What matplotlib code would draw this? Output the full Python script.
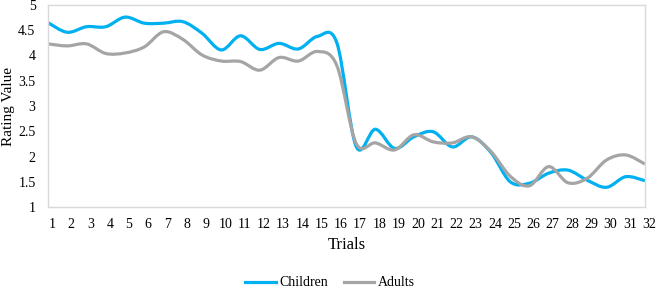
import numpy as np
import matplotlib
matplotlib.use('Agg')
import matplotlib.pyplot as plt
from matplotlib.path import Path
from matplotlib.patches import PathPatch
from matplotlib.lines import Line2D
from matplotlib.transforms import ScaledTranslation

# %% data
trials = list(range(1, 33))
children = [4.65, 4.46, 4.57, 4.57, 4.76, 4.64, 4.64, 4.67, 4.44, 4.11,
            4.39, 4.12, 4.24, 4.13, 4.38, 4.25, 2.20, 2.54, 2.16, 2.39,
            2.49, 2.19, 2.39, 2.08, 1.50, 1.47, 1.67, 1.73, 1.53, 1.39,
            1.60, 1.52]
adults = [4.23, 4.19, 4.23, 4.04, 4.05, 4.17, 4.47, 4.32, 4.01, 3.89,
          3.88, 3.71, 3.96, 3.89, 4.08, 3.80, 2.26, 2.27, 2.13, 2.43,
          2.29, 2.27, 2.39, 2.10, 1.61, 1.42, 1.80, 1.48, 1.57, 1.93,
          2.03, 1.85]

BLUE = '#00B0F0'
GREY = '#A5A5A5'
LW = 2.3


# %% definitions
def smooth_path(x, y):
    """Excel-style smoothed line: Bezier segments through every point."""
    p = np.column_stack([x, y]).astype(float)
    n = len(p)
    verts = [p[0]]
    codes = [Path.MOVETO]
    for i in range(n - 1):
        p0 = p[i - 1] if i > 0 else p[i]
        p3 = p[i + 2] if i + 2 < n else p[i + 1]
        c1 = p[i] + (p[i + 1] - p0) / 6
        c2 = p[i + 1] - (p3 - p[i]) / 6
        verts += [c1, c2, p[i + 1]]
        codes += [Path.CURVE4] * 3
    return Path(verts, codes)


plt.rcParams['font.family'] = ['Liberation Serif', 'DejaVu Serif']

# %% plot
fig = plt.figure(figsize=(6.6, 2.9), dpi=100)
ax = fig.add_axes([48 / 660, 1 - 207 / 290, 597 / 660, 202 / 290])

for values, color in [(children, BLUE), (adults, GREY)]:
    ax.add_patch(PathPatch(smooth_path(trials, values), fill=False,
                           edgecolor=color, lw=LW, capstyle='butt',
                           joinstyle='round'))

ax.set_xlim(1, 32)
ax.set_ylim(1, 5)
ax.set_xticks(trials)
ax.set_xticklabels([str(t) for t in trials], fontsize=10)
ax.set_yticks(np.arange(1, 5.01, 0.5))
ax.set_yticklabels(['1', '1.5', '2', '2.5', '3', '3.5', '4', '4.5', '5'],
                   fontsize=10)
ax.tick_params(length=0)
ax.tick_params(axis='x', pad=8)
ax.tick_params(axis='y', pad=9)
offset = ScaledTranslation(4 / 100, 0, fig.dpi_scale_trans)
for lab in ax.get_xticklabels():
    lab.set_transform(lab.get_transform() + offset)

for side in ax.spines.values():
    side.set_color('#D9D9D9')
    side.set_linewidth(1)

ax.set_xlabel('Trials', fontsize=12, labelpad=4)
ax.set_ylabel('Rating Value', fontsize=11, va='center')
ax.yaxis.set_label_coords(-39 / 597, 0.5)

handles = [Line2D([], [], color=BLUE, lw=LW),
           Line2D([], [], color=GREY, lw=LW)]
fig.legend(handles, ['Children', 'Adults'], loc='center',
           bbox_to_anchor=(0.5, 1 - 283 / 290), ncol=2, frameon=False,
           fontsize=10, handlelength=2.2, handletextpad=0.25,
           columnspacing=1.1, borderpad=0)

fig.savefig('out.png', dpi=100)
